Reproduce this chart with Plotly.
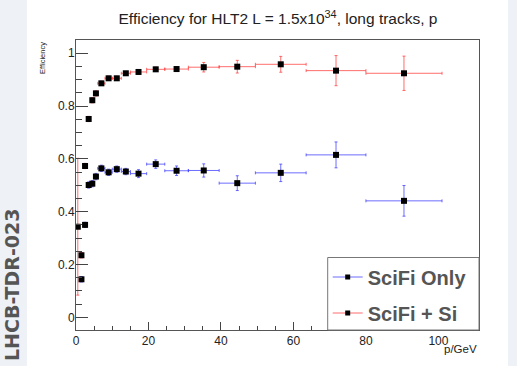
import plotly.graph_objects as go

# ---- data ----
p_centers = [0.5, 1.5, 2.5, 3.5, 4.5, 5.5, 7, 9, 11.25, 13.75, 17.25, 22, 27.75, 35.25, 44.5, 56.5, 71.75, 90.5]
p_halfwidth = [0.5, 0.5, 0.5, 0.5, 0.5, 0.5, 1, 1, 1.25, 1.25, 2.25, 2.5, 3.25, 4.25, 5, 7, 8.25, 10.5]

scifi_only_eff = [None, 0.144, 0.350, 0.501, 0.506, 0.533, 0.564, 0.549, 0.561, 0.552, 0.544,
                  0.580, 0.555, 0.556, 0.508, 0.547, 0.615, 0.441]
scifi_only_err = [None, 0.01, 0.01, 0.012, 0.012, 0.012, 0.012, 0.012, 0.012, 0.012, 0.015,
                  0.016, 0.018, 0.025, 0.028, 0.033, 0.049, 0.058]

scifi_si_eff = [0.343, 0.235, 0.573, 0.751, 0.822, 0.848, 0.886, 0.905, 0.905, 0.924, 0.929,
                0.939, 0.940, 0.947, 0.949, 0.958, 0.934, 0.924]
scifi_si_err = [0.259, 0.01, 0.01, 0.01, 0.01, 0.01, 0.008, 0.008, 0.008, 0.007, 0.007,
                0.008, 0.009, 0.018, 0.024, 0.030, 0.057, 0.065]

x_tick_vals = [0, 20, 40, 60, 80, 100]
y_tick_vals = [0, 0.2, 0.4, 0.6, 0.8, 1]
y_tick_text = ["0", "0.2", "0.4", "0.6", "0.8", "1"]

title_text = "Efficiency for HLT2 L = 1.5x10<sup>34</sup>, long tracks, p"
BLUE = "rgba(60,60,255,0.75)"
RED = "rgba(255,60,60,0.75)"
FONT = "Liberation Sans, Arial, Helvetica, sans-serif"

W, H = 517, 366
L, R, T, B = 76, 38, 40, 36
PW, PH = W - L - R, H - T - B

fig = go.Figure()

def series(x, y, xe, ye, color, name):
    fig.add_trace(go.Scatter(
        x=x, y=y, mode="markers", showlegend=False, name=name,
        marker=dict(symbol="square", size=6, color="black"),
        error_x=dict(type="data", array=xe, color=color, thickness=1, width=1.5),
        error_y=dict(type="data", array=ye, color=color, thickness=1, width=1.5),
    ))

series(p_centers, scifi_only_eff, p_halfwidth, scifi_only_err, BLUE, "SciFi Only")
series(p_centers, scifi_si_eff, p_halfwidth, scifi_si_err, RED, "SciFi + Si")

# legend entries (line + marker sample)
for name, color in [("SciFi Only", BLUE), ("SciFi + Si", RED)]:
    fig.add_trace(go.Scatter(
        x=[None], y=[None], mode="lines+markers", name=name, legendgroup=name,
        line=dict(color=color, width=1),
        marker=dict(symbol="square", size=5, color="black"),
    ))

axis_common = dict(
    showgrid=False, zeroline=False, showline=True, linecolor="#555", linewidth=1,
    mirror=True, ticks="inside", tickcolor="#444", tickwidth=1,
    tickfont=dict(family=FONT, size=12, color="#222"),
)

fig.update_xaxes(range=[0, 111.2], tickvals=x_tick_vals, ticklen=8,
                 minor=dict(dtick=5, ticklen=4, ticks="inside", tickcolor="#444"),
                 **axis_common)
fig.update_yaxes(range=[-0.048, 1.05], tickvals=y_tick_vals, ticktext=y_tick_text, ticklen=12,
                 ticklabelstandoff=-2,
                 minor=dict(dtick=0.05, ticklen=6, ticks="inside", tickcolor="#444"),
                 **axis_common)

lx0 = (327.7 - L) / PW
fig.add_shape(type="rect", xref="paper", yref="paper", x0=lx0, x1=1, y0=0, y1=0.25,
              line=dict(color="#777", width=1), fillcolor="white", layer="above")

# side bands
fig.add_shape(type="rect", xref="paper", yref="paper", x0=-L / PW, x1=(27 - L) / PW,
              y0=-B / PH, y1=1 + T / PH, line=dict(width=0),
              fillcolor="#eef2f6", layer="below")
fig.add_shape(type="rect", xref="paper", yref="paper", x0=(508 - L) / PW,
              x1=1 + R / PW, y0=-B / PH, y1=1 + T / PH, line=dict(width=0),
              fillcolor="#eef2f6", layer="below")

fig.update_layout(
    width=W, height=H,
    margin=dict(l=L, r=R, t=T, b=B),
    paper_bgcolor="white", plot_bgcolor="white",
    title=dict(text=title_text, x=278 / W, xanchor="center", y=1 - 19 / H, yanchor="middle",
               font=dict(family=FONT, size=15.5, color="#222")),
    legend=dict(x=lx0, y=0.25, xanchor="left", yanchor="top",
                bgcolor="rgba(0,0,0,0)", borderwidth=0,
                font=dict(family=FONT, size=20, color="#555", weight="bold"),
                tracegroupgap=7, itemwidth=30),
    annotations=[
        dict(text="Efficiency", xref="paper", yref="paper",
             x=(42 - L) / PW, y=1 + (T - 40) / PH, xanchor="center", yanchor="top",
             textangle=-90, showarrow=False, font=dict(family=FONT, size=7.5, color="#222")),
        dict(text="p/GeV", xref="paper", yref="paper",
             x=1, y=-(349 - (H - B)) / PH, xanchor="right", yanchor="middle",
             showarrow=False, font=dict(family=FONT, size=11.5, color="#222")),
        dict(text="LHCB-TDR-023", xref="paper", yref="paper",
             x=(12 - L) / PW, y=1 - (285 - T) / PH, xanchor="center", yanchor="middle",
             textangle=-90, showarrow=False,
             font=dict(family="DejaVu Sans, sans-serif", size=19, color="#555", weight="bold")),
    ],
)

fig.write_html("out.html", config={"displayModeBar": False},
               post_script="document.body.style.margin='0';document.body.style.padding='0';")
